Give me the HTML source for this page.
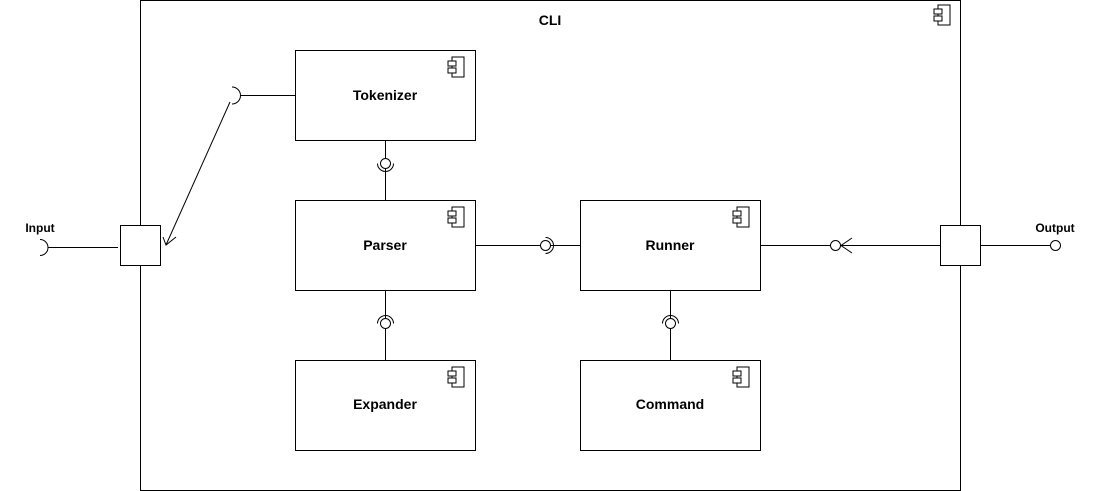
<!DOCTYPE html>
<html><head><meta charset="utf-8"><style>
html,body{margin:0;padding:0;background:#fff;}
svg{display:block;font-family:"Liberation Sans",sans-serif;}
</style></head><body>
<svg width="1096" height="491" viewBox="0 0 1096 491" xmlns="http://www.w3.org/2000/svg">
<defs>
<g id="ic" fill="#fff" stroke="#000" stroke-width="1">
<rect x="4" y="0" width="12" height="20"/>
<rect x="0" y="4" width="8" height="5"/>
<rect x="0" y="11" width="8" height="5"/>
</g>
</defs>
<g fill="none" stroke="#000" stroke-width="1">
<rect x="140.5" y="0.5" width="820" height="490" fill="#fff"/>
<!-- connectors -->
<line x1="385.5" y1="140" x2="385.5" y2="200"/>
<line x1="385.5" y1="290" x2="385.5" y2="360"/>
<line x1="670.5" y1="290" x2="670.5" y2="360"/>
<line x1="475" y1="245.5" x2="580" y2="245.5"/>
<line x1="760" y1="245.5" x2="940" y2="245.5"/>
<line x1="240" y1="95.5" x2="295" y2="95.5"/>
<line x1="48" y1="247.5" x2="118" y2="247.5"/>
<line x1="980" y1="245.5" x2="1050" y2="245.5"/>
<line x1="230" y1="102" x2="166" y2="245"/>
<polyline points="163,237 166,245 176,237"/>
</g>
<g fill="#fff" stroke="#000" stroke-width="1">
<rect x="295.5" y="50.5" width="180" height="90"/>
<rect x="295.5" y="200.5" width="180" height="90"/>
<rect x="295.5" y="360.5" width="180" height="90"/>
<rect x="580.5" y="200.5" width="180" height="90"/>
<rect x="580.5" y="360.5" width="180" height="90"/>
<rect x="120.5" y="225.5" width="40" height="40"/>
<rect x="940.5" y="225.5" width="40" height="40"/>
<!-- lollipops -->
<circle cx="385.5" cy="163.5" r="5"/>
<circle cx="385.5" cy="323.5" r="5"/>
<circle cx="670.5" cy="323.5" r="5"/>
<circle cx="545.5" cy="245.5" r="5"/>
<circle cx="835.5" cy="245.5" r="5"/>
<circle cx="1055.5" cy="245.5" r="5"/>
</g>
<g fill="none" stroke="#000" stroke-width="1">
<path d="M377.5,163.5 A8,8 0 0 0 393.5,163.5"/>
<path d="M377.5,323.5 A8,8 0 0 1 393.5,323.5"/>
<path d="M662.5,323.5 A8,8 0 0 1 678.5,323.5"/>
<path d="M545.5,237.5 A8,8 0 0 1 545.5,253.5"/>
<path d="M232,87 A8,8 0 0 1 232,104"/>
<path d="M40,239.5 A8,8 0 0 1 40,255.5"/>
<polyline points="852,238 841,245.5 852,253"/>
</g>
<use href="#ic" x="934" y="5"/>
<use href="#ic" x="448" y="57"/>
<use href="#ic" x="448" y="207"/>
<use href="#ic" x="448" y="367"/>
<use href="#ic" x="733" y="207"/>
<use href="#ic" x="733" y="367"/>
<g font-size="14" font-weight="bold" text-anchor="middle" fill="#000">
<text x="550" y="25">CLI</text>
<text x="385" y="100">Tokenizer</text>
<text x="385" y="250">Parser</text>
<text x="385" y="409">Expander</text>
<text x="670" y="250">Runner</text>
<text x="670" y="409">Command</text>
</g>
<g font-size="12" font-weight="bold" text-anchor="middle" fill="#000">
<text x="40" y="232">Input</text>
<text x="1055" y="232">Output</text>
</g>
</svg>
</body></html>
